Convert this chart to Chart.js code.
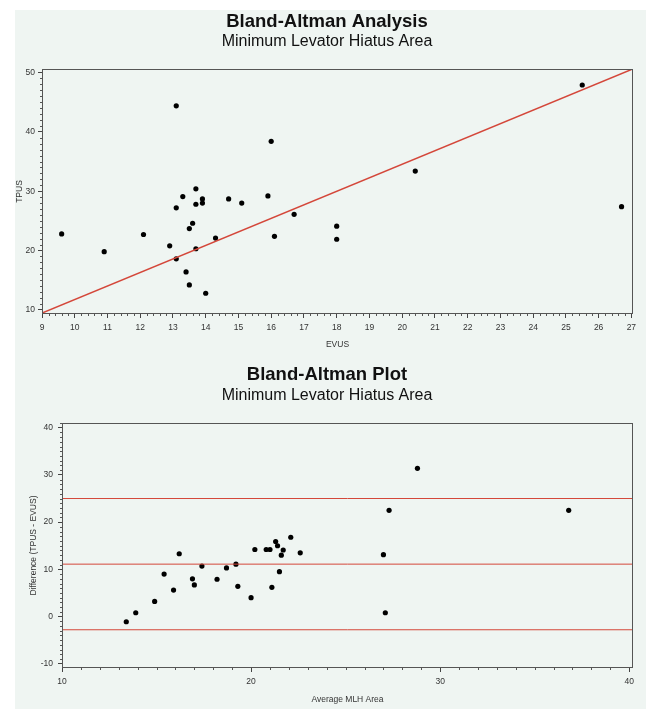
<!DOCTYPE html>
<html>
<head>
<meta charset="utf-8">
<title>Bland-Altman Analysis</title>
<script src="https://cdn.jsdelivr.net/npm/chart.js@4.4.0/dist/chart.umd.min.js"></script>
<style>
  html, body { margin: 0; padding: 0; background: #fff; }
  body { width: 646px; height: 709px; position: relative; overflow: hidden; }
  #panel { position: absolute; left: 15px; top: 10px; width: 631px; height: 699px; background: #eff5f2; }
  .box { position: absolute; left: 0; width: 631px; }
  #boxA { top: 0; height: 345px; }
  #boxB { top: 345px; height: 354px; }
</style>
</head>
<body>
<div id="panel">
  <div class="box" id="boxA"><canvas id="chartA"></canvas></div>
  <div class="box" id="boxB"><canvas id="chartB"></canvas></div>
</div>
<script>
// top plot: TPUS vs EVUS
const evus = [9.6, 10.9, 12.1, 12.9, 13.1, 13.1, 13.1, 13.3, 13.4, 13.5, 13.5, 13.6, 13.7, 13.7, 13.7,
  13.9, 13.9, 14.0, 14.3, 14.7, 15.1, 15.9, 16.0, 16.1, 16.7, 18.0, 18.0, 20.4, 25.5, 26.7];
const tpus = [22.8, 19.8, 22.7, 20.8, 44.4, 27.2, 18.6, 29.1, 16.4, 23.7, 14.2, 24.6, 30.4, 27.8, 20.3,
  28.7, 28.0, 12.8, 22.1, 28.7, 28.0, 29.2, 38.4, 22.4, 26.1, 24.1, 21.9, 33.4, 47.9, 27.4];
const fitX = [9, 27];
const fitY = [9.45, 50.5];
const xTicksA = [9, 10, 11, 12, 13, 14, 15, 16, 17, 18, 19, 20, 21, 22, 23, 24, 25, 26, 27];
const yTicksA = [10, 20, 30, 40, 50];

// bottom plot: difference vs average
const avgMlh = [13.4, 13.9, 14.9, 15.4, 15.9, 16.2, 16.9, 17.0, 17.4, 18.2, 18.7, 19.2, 19.3, 20.0, 20.2,
  20.8, 21.0, 21.1, 21.3, 21.4, 21.5, 21.6, 21.7, 22.1, 22.6, 27.0, 27.3, 27.1, 28.8, 36.8];
const diffs = [-1.1, 0.8, 3.2, 9.0, 5.6, 13.3, 8.0, 6.7, 10.7, 7.9, 10.3, 11.1, 6.4, 4.0, 14.2,
  14.2, 14.2, 6.2, 15.9, 15.0, 9.5, 13.0, 14.1, 16.8, 13.5, 13.1, 22.5, 0.8, 31.4, 22.5];
const limits = [25.0, 11.1, -2.8];
const xTicksB = [10, 20, 30, 40];
const yTicksB = [-10, 0, 10, 20, 30, 40];

Chart.defaults.font.family = "'Liberation Sans', Arial, sans-serif";
const tickFont = { family: "'Liberation Sans Narrow', 'Liberation Sans', sans-serif", size: 8.5, lineHeight: 1.2 };
const axisFont = { family: "'Liberation Sans', Arial, sans-serif", size: 8.5, lineHeight: 1.2 };
const red = "#d4473a";

const frame = {
  id: "frame",
  afterDatasetsDraw(chart) {
    const { left, top, right, bottom } = chart.chartArea;
    const ctx = chart.ctx;
    ctx.save();
    ctx.strokeStyle = "#555";
    ctx.lineWidth = 1;
    ctx.strokeRect(Math.round(left) + 0.5, Math.round(top) + 0.5, Math.round(right - left) - 1, Math.round(bottom - top) - 1);
    ctx.restore();
  },
};

const minorTicks = {
  id: "minorTicks",
  afterDraw(chart, args, opts) {
    const ctx = chart.ctx;
    ctx.save();
    ctx.strokeStyle = "#555";
    ctx.lineWidth = 1;
    ctx.beginPath();
    Object.entries(opts.steps || {}).forEach(([id, step]) => {
      const s = chart.scales[id];
      const majors = s.ticks.map((t) => t.value);
      const start = Math.ceil(s.min / step - 1e-9);
      for (let k = start; k * step <= s.max + 1e-9; k++) {
        const v = k * step;
        if (majors.some((m) => Math.abs(m - v) < 1e-6)) continue;
        const p = Math.round(s.getPixelForValue(v)) + 0.5;
        if (s.isHorizontal()) {
          ctx.moveTo(p, Math.round(s.top));
          ctx.lineTo(p, Math.round(s.top) + 2);
        } else {
          ctx.moveTo(Math.round(s.right), p);
          ctx.lineTo(Math.round(s.right) - 2, p);
        }
      }
    });
    ctx.stroke();
    ctx.restore();
  },
};

function axis(min, max, ticks, fit, title, titlePad, labelPad) {
  return {
    type: "linear",
    min,
    max,
    afterBuildTicks: (s) => { s.ticks = ticks.map((v) => ({ value: v })); },
    afterFit: fit,
    grid: { display: true, drawOnChartArea: false, drawTicks: true, tickLength: 4, tickColor: "#444" },
    border: { display: false },
    ticks: { font: tickFont, color: "#333", padding: labelPad, maxRotation: 0, autoSkip: false },
    title: { display: true, text: title, font: axisFont, color: "#333", padding: titlePad },
  };
}

// empty right-hand box so the titles centre where the reference has them
function spacer() {
  return {
    type: "linear",
    axis: "y",
    position: "right",
    display: true,
    grid: { display: false },
    border: { display: false },
    ticks: { display: false },
    afterFit: (s) => { s.width = 6; },
  };
}

function titles(main, top, gap, after) {
  return {
    legend: { display: false },
    tooltip: { enabled: false },
    title: {
      display: true, text: main, color: "#111",
      font: { size: 18.5, weight: "bold", lineHeight: 1.0 },
      padding: { top, bottom: gap },
    },
    subtitle: {
      display: true, text: "Minimum Levator Hiatus Area", color: "#111",
      font: { size: 16, lineHeight: 1.2 },
      padding: { top: 0, bottom: after },
    },
  };
}

new Chart(document.getElementById("chartA"), {
  type: "scatter",
  data: {
    datasets: [
      {
        data: fitX.map((x, i) => ({ x, y: fitY[i] })),
        showLine: true, borderColor: red, borderWidth: 1.6, pointRadius: 0,
      },
      {
        data: evus.map((x, i) => ({ x, y: tpus[i] })),
        pointRadius: 2.6, pointBackgroundColor: "#000", pointBorderWidth: 0,
      },
    ],
  },
  options: {
    responsive: true,
    maintainAspectRatio: false,
    animation: false,
    events: [],
    layout: { padding: { left: 0, right: 7, top: 0, bottom: 0 } },
    plugins: Object.assign(titles("Bland-Altman Analysis", 3, 0, 18.3), { minorTicks: { steps: { x: 0.2, y: 1 } } }),
    scales: {
      x: axis(9, 27.05, xTicksA, (s) => { s.height = 41; }, "EVUS", { top: 0, bottom: 5.4 }, 4.6),
      y: axis(9.3, 50.6, yTicksA, (s) => { s.width = 27; }, "TPUS", { top: 0, bottom: 0 }, 3),
      yRight: spacer(),
    },
  },
  plugins: [frame, minorTicks],
});

new Chart(document.getElementById("chartB"), {
  type: "scatter",
  data: {
    datasets: limits.map((v) => ({
      data: [{ x: 10, y: v }, { x: 40.2, y: v }],
      showLine: true, borderColor: red, borderWidth: 1, pointRadius: 0,
    })).concat([
      {
        data: avgMlh.map((x, i) => ({ x, y: diffs[i] })),
        pointRadius: 2.6, pointBackgroundColor: "#000", pointBorderWidth: 0,
      },
    ]),
  },
  options: {
    responsive: true,
    maintainAspectRatio: false,
    animation: false,
    events: [],
    layout: { padding: { left: 0, right: 7, top: 0, bottom: 0 } },
    plugins: Object.assign(titles("Bland-Altman Plot", 11, 1.5, 17.8), { minorTicks: { steps: { x: 1, y: 1 } } }),
    scales: {
      x: axis(10, 40.2, xTicksB, (s) => { s.height = 41; }, "Average MLH Area", { top: 0, bottom: 4.6 }, 4.6),
      y: axis(-10.9, 41, yTicksB, (s) => { s.width = 47; }, "Difference (TPUS - EVUS)", { top: 13.9, bottom: 0 }, 5),
      yRight: spacer(),
    },
  },
  plugins: [frame, minorTicks],
});
</script>
</body>
</html>
